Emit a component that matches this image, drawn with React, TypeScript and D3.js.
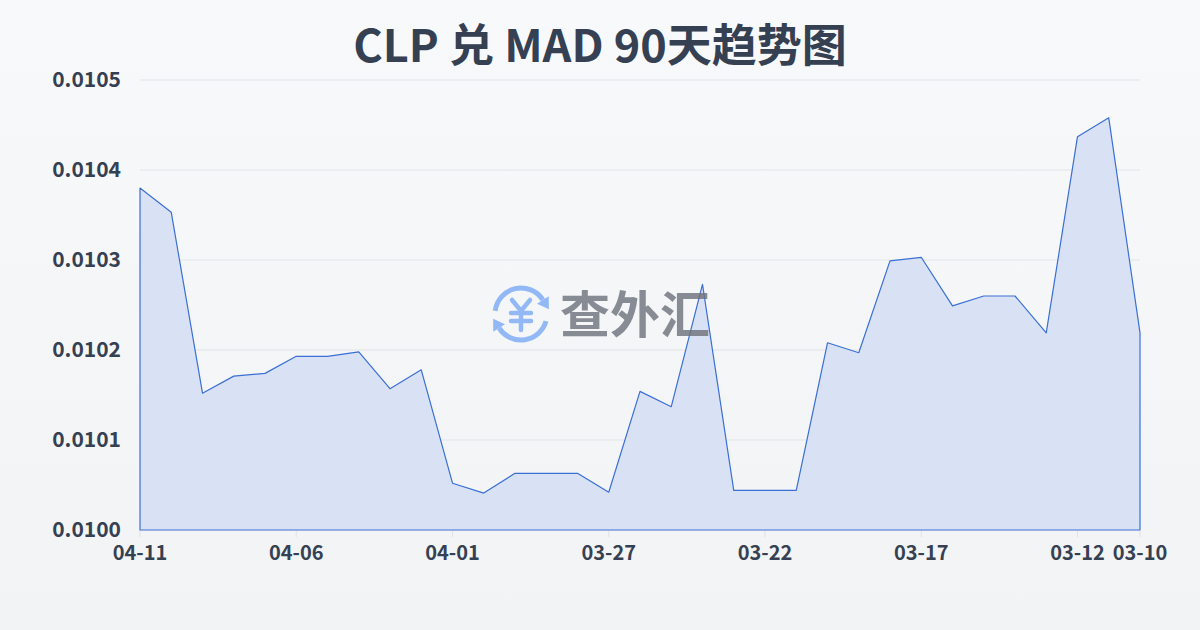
import * as d3 from "d3";

const dates = [
  "04-11", "04-10", "04-09", "04-08", "04-07", "04-06", "04-05", "04-04", "04-03", "04-02", "04-01",
  "03-31", "03-30", "03-29", "03-28", "03-27", "03-26", "03-25", "03-24", "03-23", "03-22", "03-21",
  "03-20", "03-19", "03-18", "03-17", "03-16", "03-15", "03-14", "03-13", "03-12", "03-11", "03-10",
];
const rates = [
  0.01038, 0.010353, 0.010152, 0.010171, 0.010174, 0.010193, 0.010193, 0.010198, 0.010157, 0.010178, 0.010052,
  0.010041, 0.010063, 0.010063, 0.010063, 0.010042, 0.010154, 0.010137, 0.010273, 0.010044, 0.010044, 0.010044,
  0.010208, 0.010197, 0.010299, 0.010303, 0.010249, 0.01026, 0.01026, 0.010219, 0.010437, 0.010458, 0.010219,
];
const yTicks = [0.01, 0.0101, 0.0102, 0.0103, 0.0104, 0.0105];
const xLabels = ["04-11", "04-06", "04-01", "03-27", "03-22", "03-17", "03-12", "03-10"];
const title = "CLP 兑 MAD 90天趋势图";

const W = 1200;
const H = 630;
const left = 140;
const right = 1140;
const top = 80;
const bottom = 530;
const font = '"Noto Sans CJK SC", "Noto Sans", sans-serif';
const textColor = "#354052";
const iconBlue = "#8db6f6";

// arrowhead at the clockwise end of an arc (d3 angle convention)
function arrowHead(cx: number, cy: number, r: number, a: number) {
  const px = cx + r * Math.sin(a);
  const py = cy - r * Math.cos(a);
  const tx = Math.cos(a);
  const ty = Math.sin(a);
  const nx = Math.sin(a);
  const ny = -Math.cos(a);
  return `M${px + nx * 7},${py + ny * 7}L${px - nx * 7},${py - ny * 7}L${px + tx * 11},${py + ty * 11}Z`;
}

export default function App() {
  const x = d3.scaleLinear().domain([0, dates.length - 1]).range([left, right]);
  const y = d3.scaleLinear().domain([0.01, 0.0105]).range([bottom, top]);
  const idx = dates.map((_, i) => i);

  const area = d3.area<number>()
    .x((i) => x(i))
    .y0(y(0.01))
    .y1((i) => y(rates[i]));

  const cx = 521;
  const cy = 314;
  const r = 26;
  const arcPath = (a0: number, a1: number) =>
    d3.arc()({ innerRadius: r, outerRadius: r, startAngle: a0, endAngle: a1 }) as string;

  return (
    <div style={{ position: "absolute", left: 0, top: 0 }}>
      <svg width={W} height={H} style={{ display: "block" }}>
        <defs>
          <linearGradient id="bg" x1="0" y1="0" x2="0" y2="1">
            <stop offset="0%" stopColor="#f8f9fb" />
            <stop offset="100%" stopColor="#f1f3f5" />
          </linearGradient>
        </defs>
        <rect width={W} height={H} fill="url(#bg)" />

        <text x={W / 2} y={62} textAnchor="middle" fontFamily={font} fontWeight={700}
          fontSize={45} fill={textColor}>{title}</text>

        {yTicks.map((t) => (
          <g key={t}>
            {t > 0.01 && (
              <line x1={left} x2={right} y1={y(t)} y2={y(t)} stroke="#e1e4e9" strokeWidth={1} />
            )}
            <text x={121} y={y(t)} dy="0.35em" textAnchor="end" fontFamily={font}
              fontWeight={700} fontSize={21} fill={textColor}>{t.toFixed(4)}</text>
          </g>
        ))}

        <path d={area(idx) as string} fill="#d9e2f5" stroke="#3a6fd6" strokeWidth={1.2}
          strokeLinejoin="round" />

        {xLabels.map((lab) => {
          const px = x(dates.indexOf(lab));
          return (
            <g key={lab}>
              <line x1={px} x2={px} y1={bottom + 1} y2={bottom + 7} stroke="#dfe2e7" />
              <text x={px} y={560} textAnchor="middle" fontFamily={font} fontWeight={700}
                fontSize={20} fill={textColor}>{lab}</text>
            </g>
          );
        })}

        <g opacity={0.95}>
          <g transform={`translate(${cx},${cy})`} fill="none" stroke={iconBlue} strokeWidth={5}>
            <path d={arcPath(-1.45, 1.0)} />
            <path d={arcPath(1.85, 4.14)} />
          </g>
          <path d={arrowHead(cx, cy, r, 1.0)} fill={iconBlue} />
          <path d={arrowHead(cx, cy, r, 4.14)} fill={iconBlue} />
          <g stroke={iconBlue} strokeWidth={4.5} strokeLinecap="round" fill="none">
            <path d={`M${cx - 9},${cy - 14}L${cx},${cy - 3}L${cx + 9},${cy - 14}`} />
            <path d={`M${cx - 10},${cy - 1}H${cx + 10}M${cx - 10},${cy + 7}H${cx + 10}M${cx},${cy - 3}V${cy + 16}`} />
          </g>
          <text x={560} y={315} dy="0.36em" fontFamily={font} fontWeight={700} fontSize={50}
            fill="#6f737c" opacity={0.85}>查外汇</text>
        </g>
      </svg>
    </div>
  );
}
